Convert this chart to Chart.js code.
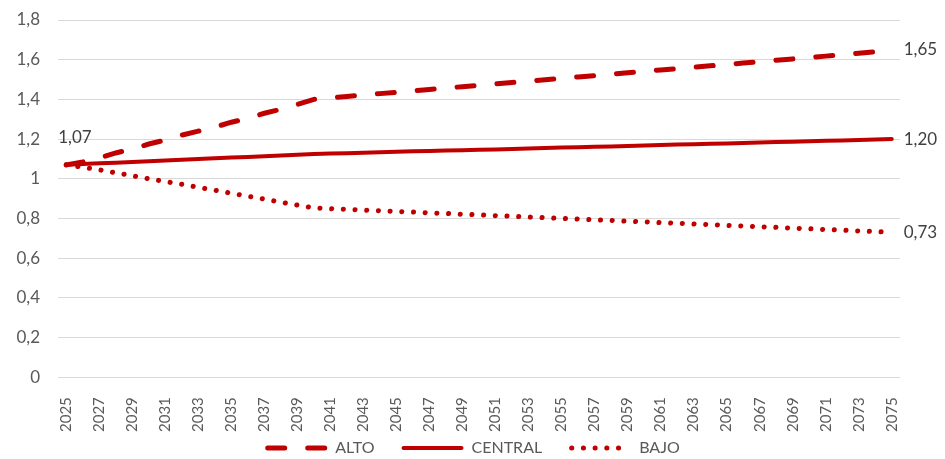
<!DOCTYPE html>
<html>
<head>
<meta charset="utf-8">
<script src="https://cdn.jsdelivr.net/npm/chart.js@4"></script>
<style>
  body { margin: 0; background: #fff; }
  #wrap { width: 945px; height: 459px; }
</style>
</head>
<body>
<div id="wrap"><canvas id="grafico"></canvas></div>
<script>
const years = [];
for (let y = 2025; y <= 2075; y++) years.push(String(y));

const alto = [
  1.070, 1.085, 1.105, 1.130, 1.150, 1.175, 1.195, 1.220, 1.240, 1.260,
  1.285, 1.305, 1.330, 1.350, 1.375, 1.400, 1.408, 1.415, 1.422, 1.429,
  1.436, 1.443, 1.450, 1.457, 1.464, 1.471, 1.478, 1.485, 1.492, 1.499,
  1.506, 1.513, 1.520, 1.527, 1.534, 1.541, 1.548, 1.555, 1.562, 1.569,
  1.576, 1.583, 1.590, 1.597, 1.604, 1.611, 1.618, 1.625, 1.632, 1.640,
  1.650
];
const central = [
  1.070, 1.074, 1.078, 1.081, 1.085, 1.088, 1.092, 1.096, 1.100, 1.103,
  1.107, 1.110, 1.114, 1.117, 1.121, 1.125, 1.127, 1.129, 1.131, 1.133,
  1.136, 1.138, 1.140, 1.142, 1.144, 1.146, 1.148, 1.150, 1.153, 1.155,
  1.157, 1.159, 1.161, 1.163, 1.165, 1.168, 1.170, 1.172, 1.174, 1.176,
  1.178, 1.180, 1.183, 1.185, 1.187, 1.189, 1.191, 1.193, 1.195, 1.198,
  1.200
];
const bajo = [
  1.070, 1.058, 1.045, 1.030, 1.015, 1.000, 0.986, 0.972, 0.957, 0.942,
  0.927, 0.912, 0.897, 0.882, 0.867, 0.853, 0.849, 0.846, 0.842, 0.839,
  0.835, 0.832, 0.828, 0.825, 0.821, 0.818, 0.814, 0.811, 0.807, 0.804,
  0.800, 0.797, 0.793, 0.790, 0.786, 0.783, 0.779, 0.776, 0.772, 0.769,
  0.765, 0.762, 0.758, 0.755, 0.751, 0.748, 0.744, 0.741, 0.737, 0.734,
  0.730
];

const rojo = '#C00000';
const gris = '#595959';
const fuente = 'Lato, "Open Sans", sans-serif';

function coma(v, d) { return v.toFixed(d).replace('.', ','); }

// etiquetas de valor al inicio y al final de las series
const etiquetas = {
  id: 'etiquetas',
  afterDatasetsDraw(chart) {
    const ctx = chart.ctx, x = chart.scales.x, y = chart.scales.y;
    const n = years.length - 1;
    ctx.save();
    ctx.font = '17px ' + fuente;
    ctx.fillStyle = '#404040';
    ctx.textBaseline = 'middle';
    ctx.textAlign = 'left';
    ctx.fillText(coma(central[0], 2), x.getPixelForValue(0) - 8, y.getPixelForValue(central[0]) - 27);
    [alto, central, bajo].forEach(s => {
      ctx.fillText(coma(s[n], 2), x.getPixelForValue(n) + 12, y.getPixelForValue(s[n]));
    });
    ctx.restore();
  }
};

// leyenda dibujada a mano para respetar los estilos de línea
const leyenda = {
  id: 'leyenda',
  afterDraw(chart) {
    const ctx = chart.ctx;
    const caja = 62, hueco = 8, sep = 27, yc = 448;
    ctx.save();
    ctx.font = '16px ' + fuente;
    const ds = chart.data.datasets;
    let total = 0;
    ds.forEach((d, i) => {
      total += caja + hueco + ctx.measureText(d.label).width + (i < ds.length - 1 ? sep : 0);
    });
    let x = (chart.width - total) / 2;
    ds.forEach(d => {
      const w = d.borderWidth;
      ctx.strokeStyle = d.borderColor;
      ctx.lineWidth = w;
      ctx.lineCap = 'round';
      ctx.setLineDash(d.borderDash || []);
      ctx.beginPath();
      ctx.moveTo(x + w / 2, yc);
      ctx.lineTo(x + caja - w / 2, yc);
      ctx.stroke();
      ctx.setLineDash([]);
      ctx.fillStyle = gris;
      ctx.textBaseline = 'middle';
      ctx.textAlign = 'left';
      ctx.fillText(d.label, x + caja + hueco, yc);
      x += caja + hueco + ctx.measureText(d.label).width + sep;
    });
    ctx.restore();
  }
};

new Chart(document.getElementById('grafico').getContext('2d'), {
  type: 'line',
  data: {
    labels: years,
    datasets: [
      { label: 'ALTO', data: alto, borderColor: rojo, backgroundColor: rojo,
        borderWidth: 5, borderDash: [17, 23], borderCapStyle: 'round',
        pointRadius: 0, tension: 0 },
      { label: 'CENTRAL', data: central, borderColor: rojo, backgroundColor: rojo,
        borderWidth: 4, borderCapStyle: 'round',
        pointRadius: 0, tension: 0 },
      { label: 'BAJO', data: bajo, borderColor: rojo, backgroundColor: rojo,
        borderWidth: 5, borderDash: [0.1, 11.6], borderCapStyle: 'round',
        pointRadius: 0, tension: 0 }
    ]
  },
  options: {
    responsive: true,
    maintainAspectRatio: false,
    animation: false,
    layout: { padding: { top: 20, right: 45, left: 0, bottom: 15 } },
    plugins: {
      tooltip: { enabled: false },
      legend: { display: false }
    },
    scales: {
      x: {
        offset: true,
        grid: { display: false },
        border: { display: false },
        afterFit: s => { s.paddingLeft = 0; s.paddingRight = 0; },
        ticks: {
          autoSkip: false,
          maxRotation: 90,
          minRotation: 90,
          padding: 12,
          color: gris,
          font: { family: fuente, size: 15 },
          callback: (v, i) => (i % 2 === 0 ? years[i] : '')
        }
      },
      y: {
        min: 0,
        max: 1.8,
        grid: { color: '#d9d9d9', lineWidth: 1, drawTicks: false },
        border: { display: false },
        afterFit: s => { s.width = 58; s.paddingTop = 0; s.paddingBottom = 0; },
        ticks: {
          stepSize: 0.2,
          padding: 18,
          color: gris,
          font: { family: fuente, size: 17 },
          callback: v => (Math.abs(v - Math.round(v)) < 1e-9 ? String(Math.round(v)) : coma(v, 1))
        }
      }
    }
  },
  plugins: [etiquetas, leyenda]
});
</script>
</body>
</html>
